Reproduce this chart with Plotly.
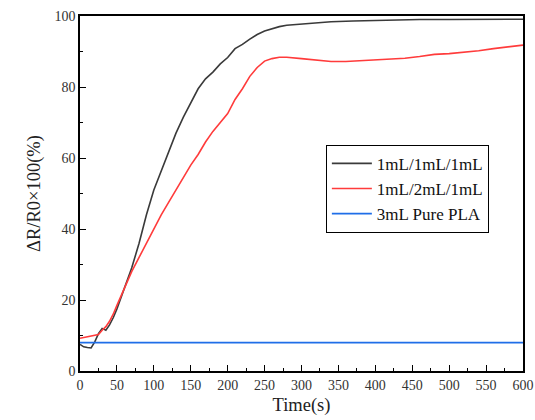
import plotly.graph_objects as go

# Response curves: relative resistance change vs. time
t_111 = [0, 5, 10, 15, 20, 25, 30, 35, 40, 45, 50, 60, 70, 80, 90, 100, 110, 120,
         130, 140, 150, 160, 170, 180, 190, 200, 210, 220, 230, 240, 250, 260, 270,
         280, 300, 320, 340, 370, 400, 430, 460, 500, 550, 600]
r_111 = [7.5, 6.8, 6.6, 6.5, 8.2, 10.5, 12.0, 11.5, 13.0, 15.0, 17.5, 23.0, 29.0,
         36.0, 44.0, 51.0, 56.5, 61.5, 67.0, 71.5, 75.5, 79.5, 82.3, 84.2, 86.5,
         88.3, 90.8, 92.0, 93.5, 94.8, 95.8, 96.5, 97.0, 97.4, 97.8, 98.1, 98.4,
         98.6, 98.8, 98.9, 99.0, 99.0, 99.0, 99.1]

t_121 = [0, 5, 10, 15, 20, 25, 30, 35, 40, 45, 50, 55, 60, 70, 80, 90, 100, 110,
         120, 130, 140, 150, 160, 170, 180, 190, 200, 210, 220, 230, 240, 250, 260,
         270, 280, 300, 320, 340, 360, 380, 400, 420, 440, 460, 480, 500, 520, 540,
         560, 580, 600]
r_121 = [9.2, 9.4, 9.6, 9.9, 10.0, 10.3, 11.5, 12.5, 14.0, 16.0, 18.5, 21.0, 23.5,
         28.0, 32.0, 36.0, 40.0, 44.0, 47.5, 51.0, 54.5, 58.0, 61.0, 64.5, 67.5,
         70.0, 72.5, 76.5, 79.5, 83.0, 85.5, 87.3, 88.0, 88.4, 88.4, 88.0, 87.6,
         87.2, 87.2, 87.4, 87.5, 87.8, 88.1, 88.6, 89.2, 89.4, 89.7, 90.2, 90.8,
         91.3, 91.8]

t_pla = [0, 50, 100, 150, 200, 250, 300, 350, 400, 450, 500, 550, 600]
r_pla = [8.0, 8.1, 8.0, 8.0, 8.1, 8.0, 8.0, 8.1, 8.0, 8.0, 8.1, 8.0, 8.0]

names = ["1mL/1mL/1mL", "1mL/2mL/1mL", "3mL Pure PLA"]
colors = ["#3a3a3a", "#ff3b3b", "#1f6ee8"]

FONT = "Liberation Serif, Times New Roman, serif"

fig = go.Figure()
for t, r, n, c in zip([t_111, t_121, t_pla], [r_111, r_121, r_pla], names, colors):
    fig.add_trace(go.Scatter(x=t, y=r, mode="lines", name=n,
                             line=dict(color=c, width=1.6)))

axis_common = dict(
    showgrid=False, zeroline=False, automargin=False,
    showline=True, linecolor="black", linewidth=1.5, mirror=True,
    ticks="inside", ticklen=6, tickwidth=1.2, tickcolor="black",
    tickfont=dict(family=FONT, size=14, color="#333"),
)

fig.update_xaxes(range=[0, 600], dtick=50, tick0=0,
                 minor=dict(ticks="inside", ticklen=3, dtick=25, tickcolor="black"),
                 title=dict(text="Time(s)", font=dict(family=FONT, size=18.5, color="#222"),
                            standoff=7),
                 **axis_common)
fig.update_yaxes(range=[0, 100], dtick=20, tick0=0,
                 minor=dict(ticks="inside", ticklen=3, dtick=10, tickcolor="black"),
                 title=dict(text="ΔR/R0×100(%)", font=dict(family=FONT, size=18.5, color="#222"),
                            standoff=9),
                 **axis_common)

fig.update_layout(
    width=535, height=420,
    margin=dict(l=80, r=12, t=16, b=49),
    paper_bgcolor="white", plot_bgcolor="white",
    font=dict(family=FONT),
    legend=dict(x=0.555, y=0.637, xanchor="left", yanchor="top",
                bordercolor="black", borderwidth=1, bgcolor="white",
                font=dict(family=FONT, size=17, color="#111"),
                tracegroupgap=0, itemwidth=40),
    showlegend=True,
)

fig.write_html("out.html")
